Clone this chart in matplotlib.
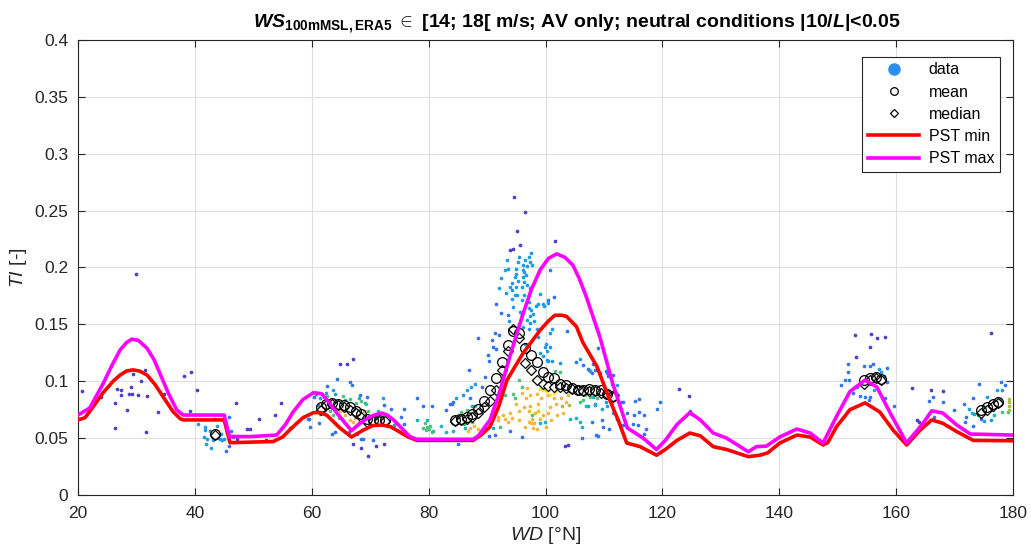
import numpy as np
import matplotlib
matplotlib.use("Agg")
import matplotlib.pyplot as plt
from matplotlib.lines import Line2D
from matplotlib.ticker import FormatStrFormatter

# PST-Kurven (WD in Grad, TI)
pst_min_x = [20, 21.2, 22.5, 24.3, 26, 27.2, 28.3, 29.4, 30.5, 31.8, 33.2, 34.6, 36.3, 37.5, 38,
             45, 46, 53.4, 55, 56.8, 58.5, 60.3, 61.5, 62.6, 64.8, 66.8, 68.8, 70.4, 72, 73.5, 74.5,
             76.5, 78, 87.6, 88.8, 90.5, 92, 93.4, 96.2, 99.1, 100.5, 101.6, 102.8, 103.6, 105.3,
             106.4, 108.8, 111, 112.5, 113.9, 116.2, 119, 120.5, 122.5, 124.7, 126.5, 128.7, 131,
             134.7, 136.7, 138, 140.1, 143, 145.3, 147.5, 148.3, 149.8, 152.1, 154.7, 157.2, 159.5,
             161.8, 164.1, 166.1, 168, 170.4, 173.2, 180]
pst_min_y = [0.066, 0.068, 0.077, 0.090, 0.100, 0.1055, 0.109, 0.110, 0.109, 0.1055, 0.097, 0.086,
             0.073, 0.067, 0.066, 0.066, 0.046, 0.047, 0.051, 0.060, 0.068, 0.0724, 0.0725, 0.070,
             0.059, 0.051, 0.057, 0.061, 0.0615, 0.060, 0.057, 0.051, 0.048, 0.048, 0.052, 0.060,
             0.078, 0.101, 0.125, 0.145, 0.153, 0.158, 0.158, 0.157, 0.148, 0.134, 0.113, 0.0835,
             0.065, 0.0457, 0.0425, 0.035, 0.040, 0.048, 0.0545, 0.052, 0.0425, 0.040, 0.0337, 0.035,
             0.037, 0.0457, 0.0527, 0.051, 0.044, 0.046, 0.060, 0.075, 0.081, 0.073, 0.057, 0.044,
             0.057, 0.066, 0.063, 0.0557, 0.048, 0.0477]

pst_max_x = [20, 22, 24.3, 25.8, 27.2, 28.3, 29.2, 30.3, 31.8, 33, 34, 35.5, 36.9, 38, 45, 45.9,
             49.4, 54, 55.5, 56.8, 58.5, 60.3, 61.7, 63, 64.3, 66.8, 68, 69.1, 70.5, 72, 73, 74,
             76.8, 78, 87.6, 88.5, 90.5, 92, 93.4, 94.8, 96.2, 97.6, 99.1, 100.5, 101.9, 103.3,
             104.7, 105.8, 107, 109.3, 111.5, 114, 116.7, 119, 120.5, 122.5, 124.7, 126.5, 128.7,
             131, 134.7, 136.1, 137.8, 140.1, 143, 145.3, 147.5, 149.8, 152.1, 154.7, 156.7, 159,
             161.8, 164.6, 166.1, 168, 170.4, 172.7, 180]
pst_max_y = [0.0703, 0.0765, 0.098, 0.114, 0.1275, 0.134, 0.137, 0.136, 0.129, 0.119, 0.107, 0.089,
             0.0747, 0.0703, 0.0703, 0.0515, 0.0513, 0.0527, 0.062, 0.073, 0.084, 0.090, 0.089,
             0.081, 0.072, 0.0565, 0.062, 0.066, 0.070, 0.072, 0.070, 0.066, 0.0513, 0.049, 0.049,
             0.052, 0.066, 0.088, 0.113, 0.137, 0.160, 0.181, 0.198, 0.208, 0.212, 0.209, 0.202,
             0.190, 0.174, 0.139, 0.098, 0.059, 0.050, 0.040, 0.048, 0.062, 0.0724, 0.066, 0.0545,
             0.050, 0.038, 0.0425, 0.043, 0.051, 0.058, 0.0545, 0.0457, 0.069, 0.091, 0.101, 0.095,
             0.072, 0.0457, 0.063, 0.074, 0.072, 0.0615, 0.0536, 0.0527]

# Mittelwerte / Mediane je 1-Grad-Sektor
bin_x = [43.5,
         61.5, 62.5, 63.5, 64.5, 65.5, 66.5, 67.5, 68.5, 69.5, 70.5, 71.5, 72.5,
         84.5, 85.5, 86.5, 87.5, 88.5, 89.5, 90.5, 91.5, 92.5, 93.5, 94.5, 95.5, 96.5, 97.5,
         98.5, 99.5, 100.5, 101.5, 102.5, 103.5, 104.5, 105.5, 106.5, 107.5, 108.5, 109.5,
         110.5, 111.5,
         154.5, 155.5, 156.5, 157.5,
         174.5, 175.5, 176.5, 177.5]
mean_y = [0.054,
          0.077, 0.080, 0.081, 0.080, 0.079, 0.077, 0.074, 0.071, 0.067, 0.066, 0.066, 0.066,
          0.066, 0.067, 0.069, 0.071, 0.076, 0.083, 0.092, 0.103, 0.117, 0.132, 0.144, 0.142,
          0.129, 0.123, 0.117, 0.108, 0.104, 0.103, 0.098, 0.097, 0.094, 0.092, 0.092, 0.093,
          0.092, 0.092, 0.089, 0.087,
          0.101, 0.103, 0.104, 0.102,
          0.0745, 0.077, 0.080, 0.082]
median_y = [0.053,
            0.075, 0.079, 0.080, 0.079, 0.077, 0.075, 0.072, 0.069, 0.064, 0.065, 0.065, 0.065,
            0.065, 0.066, 0.067, 0.069, 0.072, 0.077, 0.083, 0.092, 0.110, 0.127, 0.146, 0.138,
            0.116, 0.110, 0.101, 0.098, 0.096, 0.095, 0.095, 0.094, 0.093, 0.092, 0.091, 0.091,
            0.091, 0.090, 0.089, 0.086,
            0.098, 0.101, 0.103, 0.101,
            0.072, 0.075, 0.078, 0.081]

# Einzelwerte, nach Punktdichte gruppiert (x = WD, y = TI)
dark_x = [20.7, 30.0, 24.0, 26.6, 27.4, 27.4, 29.1, 28.8, 29.2, 30.2, 29.4, 30.8, 31.4, 31.8, 26.4,
          28.3, 26.4, 31.6, 33.7, 34.7, 38.2, 39.4, 40.4, 39.1, 47.1, 50.9, 53.7, 49.4, 48.9, 52.1,
          47.2, 54.7, 56.3, 64.8, 66.0, 67.0, 69.7, 68.5, 71.0, 72.4, 67.1, 94.6, 96.5, 95.1,
          101.6, 93.9, 94.4, 95.6, 103.9, 103.3, 122.9, 124.6, 153.0, 155.7, 156.8, 158.1, 155.6,
          153.2, 162.8, 166.0, 168.0, 176.2, 163.6, 163.9]
dark_y = [0.091, 0.194, 0.086, 0.093, 0.092, 0.088, 0.095, 0.089, 0.089, 0.088, 0.106, 0.100, 0.110,
          0.087, 0.081, 0.075, 0.059, 0.055, 0.073, 0.089, 0.105, 0.108, 0.092, 0.074, 0.081, 0.067,
          0.070, 0.058, 0.058, 0.048, 0.049, 0.081, 0.059, 0.115, 0.115, 0.120, 0.034, 0.041, 0.043,
          0.045, 0.045, 0.262, 0.249, 0.232, 0.223, 0.215, 0.216, 0.2195, 0.044, 0.043, 0.093,
          0.087, 0.141, 0.1415, 0.138, 0.139, 0.130, 0.121, 0.094, 0.092, 0.091, 0.142, 0.066,
          0.0645]

blue_x = [45.8, 45.4, 46.1, 46.5, 45.8, 59.4, 59.7, 61.3, 64.3, 62.6, 66.5, 66.9, 68.3, 69.5, 72.4,
          73.5, 75.7, 78.0, 75.2, 59.6, 60.7, 60.4, 63.4, 64.0, 67.8, 68.8, 66.3, 68.4, 70.5, 75.8,
          79.1, 80.5, 83.7, 84.0, 82.9, 85.1, 84.2, 91.6, 92.4, 93.5, 91.4, 92.0, 88.5, 90.8, 91.1,
          91.5, 90.1, 90.4, 89.6, 89.2, 87.1, 86.9, 100.8, 101.5, 100.5, 103.6, 109.0, 105.3,
          107.3, 108.5, 110.4, 110.7, 111.6, 113.0, 112.2, 90.3, 91.4, 94.0, 95.9, 108.7, 109.8,
          106.5, 108.2, 107.4, 108.0, 109.3, 110.5, 113.3, 115.3, 116.0, 119.6, 124.7, 125.0,
          119.0, 116.8, 116.0, 114.0, 115.2, 114.9, 115.8, 117.2, 116.9, 110.8, 109.7, 108.0,
          108.9, 106.2, 113.2, 151.8, 154.5, 155.5, 156.1, 158.5, 151.7, 151.2, 152.0, 150.5,
          153.3, 152.6, 153.9, 154.6, 155.5, 155.4, 158.1, 158.5, 159.6, 166.3, 165.6, 168.1,
          169.9, 166.5, 174.2, 173.2, 171.6, 171.9, 171.8, 173.1, 177.9, 178.7, 174.5]
blue_y = [0.043, 0.039, 0.056, 0.051, 0.069, 0.067, 0.060, 0.063, 0.1017, 0.096, 0.099, 0.097, 0.088,
          0.086, 0.079, 0.076, 0.076, 0.085, 0.069, 0.0665, 0.089, 0.086, 0.054, 0.055, 0.054,
          0.049, 0.055, 0.049, 0.048, 0.062, 0.0785, 0.0785, 0.080, 0.080, 0.075, 0.045, 0.082,
          0.168, 0.160, 0.158, 0.142, 0.141, 0.138, 0.136, 0.130, 0.128, 0.123, 0.118, 0.104,
          0.095, 0.085, 0.110, 0.198, 0.174, 0.171, 0.144, 0.129, 0.117, 0.111, 0.110, 0.109,
          0.105, 0.1055, 0.082, 0.067, 0.052, 0.053, 0.056, 0.051, 0.053, 0.060, 0.114, 0.115,
          0.110, 0.107, 0.107, 0.107, 0.082, 0.083, 0.084, 0.082, 0.074, 0.071, 0.0755, 0.0705,
          0.073, 0.072, 0.0705, 0.062, 0.0615, 0.058, 0.054, 0.058, 0.066, 0.064, 0.052, 0.050,
          0.0615, 0.115, 0.113, 0.1136, 0.115, 0.112, 0.108, 0.1015, 0.1015, 0.097, 0.095, 0.090,
          0.087, 0.086, 0.0864, 0.0835, 0.085, 0.0996, 0.078, 0.0864, 0.0826, 0.0815, 0.075, 0.069,
          0.098, 0.085, 0.080, 0.069, 0.064, 0.061, 0.0996, 0.097, 0.067]

lblue_x = [40.6, 41.7, 41.7, 41.6, 42.1, 41.9, 42.8, 43.7, 43.3, 42.5, 44.0, 44.5, 44.6, 44.9, 44.3,
           43.1, 93.4, 97.6, 95.5, 96.5, 97.1, 97.4, 97.7, 95.3, 96.2, 93.1, 93.6, 95.0, 96.2,
           96.8, 95.0, 96.4, 96.7, 96.1, 94.8, 92.4, 95.3, 94.3, 96.4, 93.9, 92.1, 95.0, 96.0,
           96.8, 97.3, 94.8, 95.2, 93.2, 94.2, 99.1, 96.4, 98.8, 99.7, 97.1, 97.3, 96.8, 96.2,
           97.2, 98.4, 99.6, 100.4, 97.6, 97.9, 97.4, 98.0, 97.2, 98.5, 98.8, 100.8, 101.1, 96.5,
           99.9, 100.3, 99.1, 99.6, 100.4, 101.1, 102.5, 100.1, 100.7, 100.2, 107.6, 105.9, 94.5,
           95.6, 93.8, 95.9, 94.2, 96.0, 87.5, 84.7, 85.8, 86.6, 87.3, 88.0, 61.4, 62.4, 63.6,
           64.0, 62.8, 61.1, 72.2, 74.0, 111.3, 112.2, 112.4, 110.4, 111.6, 110.5, 111.3, 108.5,
           107.3, 157.0, 157.5, 157.9, 156.8, 156.2, 172.5, 173.4, 175.1, 176.2, 177.2, 178.1,
           175.6, 177.7]
lblue_y = [0.062, 0.060, 0.057, 0.051, 0.049, 0.045, 0.041, 0.0605, 0.067, 0.056, 0.050, 0.054,
           0.048, 0.049, 0.049, 0.048, 0.207, 0.2125, 0.209, 0.2066, 0.209, 0.2045, 0.2025, 0.2045,
           0.2025, 0.198, 0.199, 0.1985, 0.198, 0.201, 0.194, 0.196, 0.193, 0.1915, 0.1915, 0.1905,
           0.188, 0.186, 0.187, 0.183, 0.182, 0.183, 0.1826, 0.1846, 0.1817, 0.176, 0.176, 0.1775,
           0.180, 0.177, 0.176, 0.168, 0.166, 0.164, 0.157, 0.154, 0.148, 0.170, 0.166, 0.168,
           0.169, 0.163, 0.159, 0.151, 0.153, 0.146, 0.146, 0.139, 0.142, 0.146, 0.133, 0.130,
           0.127, 0.1245, 0.122, 0.118, 0.118, 0.116, 0.133, 0.130, 0.119, 0.109, 0.120, 0.165,
           0.161, 0.153, 0.171, 0.172, 0.158, 0.078, 0.085, 0.088, 0.092, 0.095, 0.098, 0.085,
           0.090, 0.092, 0.089, 0.082, 0.079, 0.085, 0.0615, 0.098, 0.097, 0.088, 0.082, 0.072,
           0.078, 0.079, 0.079, 0.078, 0.111, 0.108, 0.105, 0.105, 0.092, 0.0755, 0.071, 0.065,
           0.066, 0.092, 0.092, 0.086, 0.0835]

cyan_x = [65.7, 68.0, 69.1, 71.4, 109.9, 108.2, 107.0, 109.6, 104.2, 105.3, 105.9, 106.3, 99.1, 99.9,
          91.1, 108.4, 173.0, 174.0, 175.5, 174.8, 176.8, 79.7, 78.0, 80.7, 86.2, 84.1, 83.0, 82.2]
cyan_y = [0.0835, 0.085, 0.081, 0.074, 0.088, 0.086, 0.078, 0.0755, 0.067, 0.068, 0.0645, 0.060,
          0.063, 0.064, 0.059, 0.080, 0.072, 0.0705, 0.072, 0.078, 0.070, 0.066, 0.066, 0.0565,
          0.0586, 0.0565, 0.055, 0.0607]

green_x = [65.4, 66.5, 67.6, 68.5, 69.2, 63.1, 63.7, 64.6, 69.7, 70.9, 62.6, 61.4, 79.4, 79.8, 80.0,
           79.6, 80.3, 79.1, 80.6, 85.5, 86.5, 87.2, 88.0, 85.0, 86.0, 87.5, 101.6, 102.5, 95.5,
           95.9, 94.4, 94.7, 93.0, 105.9, 106.8, 107.6, 108.8, 105.9, 97.7, 92.2, 106.5, 176.5,
           178.1, 179.1]
green_y = [0.087, 0.084, 0.0806, 0.083, 0.080, 0.074, 0.070, 0.068, 0.074, 0.069, 0.087, 0.071, 0.063,
           0.060, 0.058, 0.057, 0.061, 0.059, 0.055, 0.073, 0.075, 0.072, 0.078, 0.070, 0.062, 0.064,
           0.109, 0.108, 0.101, 0.095, 0.089, 0.085, 0.088, 0.092, 0.088, 0.0865, 0.085, 0.082,
           0.070, 0.060, 0.0835, 0.075, 0.0732, 0.0727]

ygreen_x = [179.3, 179.3, 179.4, 179.3, 104.0, 102.9]
ygreen_y = [0.078, 0.075, 0.082, 0.084, 0.079, 0.078]

orange_x = [66.0, 66.7, 67.4, 68.0, 67.0, 65.7, 64.8, 68.8, 69.0, 66.5, 87.0, 87.8, 88.5, 86.8, 97.9,
            99.0, 99.9, 98.5, 97.4, 96.6, 99.3, 100.4, 102.6, 103.5, 98.7, 97.4, 96.3, 95.4, 94.0,
            92.8, 91.9, 97.1, 98.2, 99.1, 97.7, 97.1, 98.0, 98.8, 100.7, 101.8, 91.9, 93.0, 94.2,
            97.6, 97.9, 95.0, 96.0, 99.5, 100.5, 101.0, 102.0, 103.0, 100.0, 98.5, 96.5, 95.5,
            93.5, 101.5, 103.8, 96.8]
orange_y = [0.0777, 0.072, 0.068, 0.0645, 0.0645, 0.070, 0.074, 0.068, 0.074, 0.066, 0.059, 0.061,
            0.058, 0.056, 0.101, 0.098, 0.092, 0.089, 0.088, 0.085, 0.085, 0.088, 0.085, 0.082,
            0.080, 0.078, 0.0776, 0.074, 0.072, 0.070, 0.069, 0.074, 0.072, 0.067, 0.067, 0.0645,
            0.063, 0.074, 0.0776, 0.080, 0.066, 0.067, 0.068, 0.063, 0.059, 0.080, 0.090, 0.070,
            0.072, 0.066, 0.070, 0.072, 0.060, 0.058, 0.060, 0.066, 0.064, 0.085, 0.088, 0.094]

yellow_x = [101.3, 101.5, 102.1, 100.7, 100.3, 101.0, 100.0, 99.5, 100.8, 101.8, 99.0]
yellow_y = [0.093, 0.090, 0.094, 0.095, 0.091, 0.097, 0.095, 0.092, 0.088, 0.091, 0.093]

groups = [
    (dark_x, dark_y, '#4a3fcc'),
    (blue_x, blue_y, '#3274f2'),
    (lblue_x, lblue_y, '#1e9be6'),
    (cyan_x, cyan_y, '#14b4c4'),
    (green_x, green_y, '#4cc27c'),
    (ygreen_x, ygreen_y, '#a9bf3a'),
    (orange_x, orange_y, '#f5b73a'),
    (yellow_x, yellow_y, '#f8ea16'),
]

# Schrift
fam = ['Liberation Sans Narrow', 'Liberation Sans', 'DejaVu Sans']
plt.rcParams['font.family'] = fam
plt.rcParams['mathtext.fontset'] = 'custom'
plt.rcParams['mathtext.rm'] = 'Liberation Sans'
plt.rcParams['mathtext.it'] = 'Liberation Sans:italic'
plt.rcParams['mathtext.bf'] = 'Liberation Sans:bold'
plt.rcParams['mathtext.bfit'] = 'Liberation Sans:bold:italic'

fig = plt.figure(figsize=(10.31, 5.57), dpi=100)
ax = fig.add_axes([0.0757, 0.1113, 0.9068, 0.8169])

for gx, gy, col in groups:
    ax.scatter(gx, gy, s=7, color=col, linewidths=0, zorder=2)

ax.plot(bin_x, median_y, 'D', ms=5.5, mfc='white', mec='black', mew=0.9, zorder=3)
ax.plot(bin_x, mean_y, 'o', ms=7, mfc='none', mec='black', mew=0.9, zorder=3)

ax.plot(pst_min_x, pst_min_y, color='red', lw=2.6, zorder=4)
ax.plot(pst_max_x, pst_max_y, color='#ff00ff', lw=2.6, zorder=5)

ax.set_xlim(20, 180)
ax.set_ylim(0, 0.4)
ax.set_xticks(np.arange(20, 181, 20))
ax.set_yticks(np.arange(0, 0.401, 0.05))
ax.yaxis.set_major_formatter(FormatStrFormatter('%g'))
ax.grid(True, color='#dfdfdf', lw=0.8)
ax.set_axisbelow(True)
ax.tick_params(direction='in', top=True, right=True, labelsize=12.5, colors='#262626', length=5)
ax.tick_params(axis='x', pad=8)
ax.tick_params(axis='y', pad=7)
for sp in ax.spines.values():
    sp.set_color('#262626')

ax.set_xlabel(r'$\mathit{WD}$ [°N]', fontsize=14, color='#262626', labelpad=3)
ax.set_ylabel(r'$\mathit{TI}$ [-]', fontsize=14, color='#262626')
ax.set_title(r'$\mathbfit{WS}_{\mathbf{100mMSL,ERA5}}$ $\in$ [14; 18[ m/s; AV only; neutral conditions |10/$\mathbfit{L}$|<0.05',
             fontsize=14, fontweight='bold', family=fam, pad=9, x=0.533)

# Legende
handles = [
    Line2D([], [], ls='none', marker='o', ms=8, mfc='#2b8ff0', mec='#2b8ff0'),
    Line2D([], [], ls='none', marker='o', ms=5.5, mfc='none', mec='black', mew=0.9),
    Line2D([], [], ls='none', marker='D', ms=4.5, mfc='none', mec='black', mew=0.9),
    Line2D([], [], color='red', lw=2.6),
    Line2D([], [], color='#ff00ff', lw=2.6),
]
leg = ax.legend(handles, ['data', 'mean', 'median', 'PST min', 'PST max'], loc='upper right',
                bbox_to_anchor=(0.986, 0.963), borderaxespad=0, fontsize=11.5, frameon=True,
                fancybox=False, edgecolor='#262626', framealpha=1, handlelength=3.2,
                labelspacing=0.45, borderpad=0.35, handletextpad=0.6)
leg.get_frame().set_linewidth(0.8)

plt.savefig('out.png', dpi=100)
